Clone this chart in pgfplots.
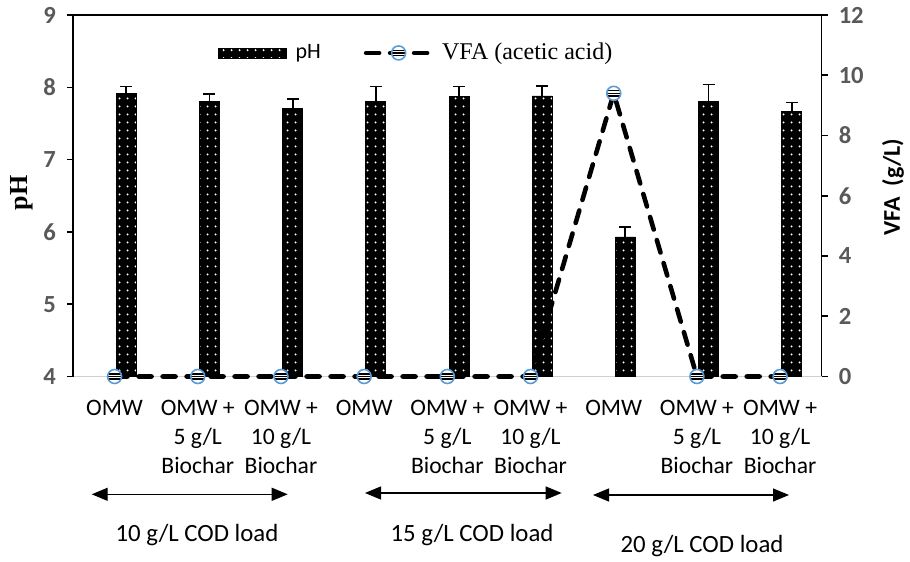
\documentclass[border=0pt]{standalone}
\usepackage{fontspec}
\setmainfont{Carlito}
\newfontfamily\timesfont{Liberation Serif}
\usepackage{pgfplots}
\pgfplotsset{compat=1.18}
\usetikzlibrary{patterns.meta, arrows.meta}
\definecolor{tickgray}{HTML}{595959}
\definecolor{vfablue}{HTML}{5B9BD5}
\definecolor{basegray}{HTML}{D0D0D0}

\pgfdeclareplotmark{stripe}{%
  \pgfsetdash{}{0pt}%
  \pgfpathcircle{\pgfpointorigin}{\pgfplotmarksize}%
  \pgfsetfillcolor{white}\pgfusepath{fill}%
  \begin{pgfscope}%
    \pgfpathcircle{\pgfpointorigin}{\pgfplotmarksize}\pgfusepath{clip}%
    \pgfsetlinewidth{0.75pt}\pgfsetstrokecolor{black}%
    \pgfpathmoveto{\pgfpoint{-\pgfplotmarksize}{0.38\pgfplotmarksize}}%
    \pgfpathlineto{\pgfpoint{\pgfplotmarksize}{0.38\pgfplotmarksize}}%
    \pgfpathmoveto{\pgfpoint{-\pgfplotmarksize}{0pt}}%
    \pgfpathlineto{\pgfpoint{\pgfplotmarksize}{0pt}}%
    \pgfpathmoveto{\pgfpoint{-\pgfplotmarksize}{-0.38\pgfplotmarksize}}%
    \pgfpathlineto{\pgfpoint{\pgfplotmarksize}{-0.38\pgfplotmarksize}}%
    \pgfusepath{stroke}%
  \end{pgfscope}%
  \pgfsetstrokecolor{vfablue}\pgfsetlinewidth{0.8pt}%
  \pgfpathcircle{\pgfpointorigin}{\pgfplotmarksize}\pgfusepath{stroke}%
}

\tikzset{dotbar/.style={fill=black, draw=black, postaction={pattern={Dots[distance=4pt,radius=0.6pt]}, pattern color=white}}}
\pgfplotsset{vfalegend/.style={legend image code/.code={\draw[mark repeat=2, mark phase=2, ##1] plot coordinates {(0pt,0pt) (16.25pt,0pt) (32.5pt,0pt)};}}}

\pgfplotstableread{
x     y     e
0.14  7.91  0.10
1.14  7.80  0.11
2.14  7.71  0.13
3.14  7.80  0.21
4.14  7.87  0.14
5.14  7.88  0.14
6.14  5.93  0.14
7.14  7.81  0.23
8.14  7.66  0.13
}\phdata

\pgfplotstableread{
x  v
0  0
1  0
2  0
3  0
4  0
5  0
6  9.4
7  0
8  0
}\vfadata

\begin{document}
\begin{tikzpicture}
\useasboundingbox (-36.5pt,-92.75pt) rectangle (418.5pt,188.25pt);
\begin{axis}[
  scale only axis, width=374.35pt, height=180.75pt,
  xmin=-0.5, xmax=8.5, ymin=4, ymax=9,
  axis x line*=bottom, axis y line*=left,
  x axis line style={draw=basegray, line width=0.8pt, -},
  y axis line style={draw=black, line width=0.8pt, -},
  xtick={0,...,8},
  xticklabels={OMW, {OMW +\\5 g/L\\Biochar}, {OMW +\\10 g/L\\Biochar},
               OMW, {OMW +\\5 g/L\\Biochar}, {OMW +\\10 g/L\\Biochar},
               OMW, {OMW +\\5 g/L\\Biochar}, {OMW +\\10 g/L\\Biochar}},
  xticklabel style={align=center, font=\fontsize{11.8}{14.3}\selectfont, text=black, yshift=-5.5pt},
  x tick style={draw=none},
  ytick={4,...,9},
  tick align=outside, major tick length=3pt,
  y tick style={draw=black, line width=0.8pt},
  yticklabel style={font=\bfseries\fontsize{12.3}{14}\selectfont, text=tickgray, xshift=-2pt},
  /pgf/number format/assume math mode=true,
  ylabel={\timesfont\bfseries pH},
  ylabel style={font=\fontsize{13}{15}\selectfont},
  every axis y label/.append style={at={(axis description cs:-0.068,0.508)}, anchor=center},
]
\addplot[ybar, bar width=0.24, bar shift=0pt, dotbar,
  error bars/.cd, y dir=plus, y explicit,
  error bar style={black, line width=0.9pt, solid},
  error mark options={black, line width=0.9pt, mark size=3pt, rotate=90}]
  table[x=x, y=y, y error=e] {\phdata};
\end{axis}
\begin{axis}[
  scale only axis, width=374.35pt, height=180.75pt,
  xmin=-0.5, xmax=8.5, ymin=0, ymax=12,
  clip=false,
  axis x line*=top, axis y line*=right,
  x axis line style={draw=black, line width=0.8pt, -},
  y axis line style={draw=black, line width=0.8pt, -},
  xtick=\empty,
  ytick={0,2,...,12},
  tick align=outside, major tick length=3pt,
  y tick style={draw=black, line width=0.8pt},
  yticklabel style={font=\bfseries\fontsize{12.3}{14}\selectfont, text=tickgray, xshift=2pt},
  /pgf/number format/assume math mode=true,
  ylabel={\bfseries VFA~~(g/L)},
  ylabel style={font=\fontsize{12}{14}\selectfont},
  every axis y label/.append style={at={(axis description cs:1.0952,0.524)}, anchor=center},
  legend columns=2,
  legend style={draw=none, fill=none, at={(axis description cs:0.457,0.895)}, anchor=center,
    nodes={inner sep=0pt},
    /tikz/every odd column/.append style={column sep=4.35pt},
    /tikz/every even column/.append style={column sep=21.5pt}},
  legend cell align=left,
]
\addlegendimage{legend image code/.code={%
  \fill[black] (0pt,-2.5pt) rectangle (34pt,2.5pt);
  \path[pattern={Dots[distance=4pt,radius=0.6pt]}, pattern color=white] (0pt,-2.5pt) rectangle (34pt,2.5pt);}}
\addlegendentry{\fontsize{11}{12}\selectfont pH}
\addplot[black, line width=2.3pt, dash pattern=on 6.5pt off 5.5pt, line cap=round,
  mark=stripe, mark size=3.5pt, mark options={solid}, vfalegend]
  table[x=x, y=v] {\vfadata};
\addlegendentry{\timesfont\fontsize{12}{14}\selectfont VFA (acetic acid)}
\end{axis}
\draw[line width=0.6pt, {Triangle[length=8pt,width=6.5pt]}-{Triangle[length=8pt,width=6.5pt]}] (9.35pt,-58.9pt) -- (107.35pt,-58.9pt);
\draw[line width=0.6pt, {Triangle[length=8pt,width=6.5pt]}-{Triangle[length=8pt,width=6.5pt]}] (146pt,-58.25pt) -- (244.35pt,-58.25pt);
\draw[line width=0.6pt, {Triangle[length=8pt,width=6.5pt]}-{Triangle[length=8pt,width=6.5pt]}] (260pt,-59.25pt) -- (358pt,-59.25pt);
\node[anchor=base, inner sep=0pt, font=\fontsize{12.4}{14}\selectfont] at (62pt,-82.6pt) {10 g/L COD load};
\node[anchor=base, inner sep=0pt, font=\fontsize{12.4}{14}\selectfont] at (199.5pt,-82.6pt) {15 g/L COD load};
\node[anchor=base, inner sep=0pt, font=\fontsize{12.4}{14}\selectfont] at (314.5pt,-88.1pt) {20 g/L COD load};
\end{tikzpicture}
\end{document}
